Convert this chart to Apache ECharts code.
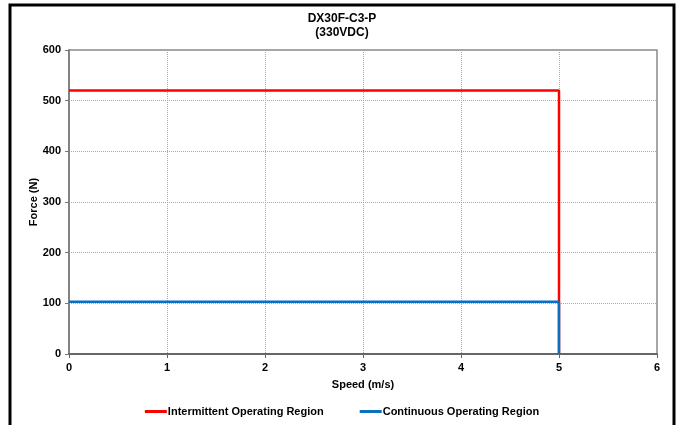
<!DOCTYPE html>
<html><head><meta charset="utf-8">
<script src="https://cdn.jsdelivr.net/npm/echarts@6/dist/echarts.min.js"></script>
<style>html,body{margin:0;padding:0;background:#fff}#c{width:684px;height:425px}</style>
</head><body><div id="c"></div>
<script>
const titleLines = ['DX30F-C3-P', '(330VDC)'];
const xName = 'Speed (m/s)';
const yName = 'Force (N)';
const seriesNames = ['Intermittent Operating Region', 'Continuous Operating Region'];
const intermittentSpeed = [0, 5, 5];
const intermittentForce = [520, 520, 0];
const continuousSpeed = [0, 5, 5];
const continuousForce = [103, 103, 0];

const chart = echarts.init(document.getElementById('c'));
const font = 'Liberation Sans, Arial, sans-serif';
chart.setOption({
  animation: false,
  backgroundColor: '#fff',
  title: {
    text: titleLines.join('\n'), left: 'center', top: 7,
    textStyle: {fontFamily: font, fontSize: 12, fontWeight: 'bold', color: '#000', lineHeight: 14}
  },
  graphic: [{
    type: 'rect', shape: {x: 10, y: 5, width: 664, height: 440},
    style: {fill: 'none', stroke: '#000', lineWidth: 3}, silent: true
  }],
  legend: {
    bottom: 3, left: 'center', itemWidth: 22, itemHeight: 3, itemGap: 36,
    icon: 'rect',
    textStyle: {fontFamily: font, fontSize: 11, fontWeight: 'bold', color: '#000', padding: [0,0,0,-4]},
    data: seriesNames
  },
  grid: {left: 69, top: 50, right: 27, bottom: 71, show: true, borderColor: '#888', borderWidth: 1.5},
  xAxis: {
    type: 'value', min: 0, max: 6, interval: 1,
    name: xName, nameLocation: 'middle', nameGap: 25, nameMoveOverlap: false,
    nameTextStyle: {fontFamily: font, fontSize: 11, fontWeight: 'bold', color: '#000'},
    axisLine: {lineStyle: {color: '#666', width: 2}},
    axisTick: {show: true, length: 4, lineStyle: {color: '#666'}},
    axisLabel: {fontFamily: font, fontSize: 11, fontWeight: 'bold', color: '#000', margin: 8},
    splitLine: {lineStyle: {color: '#aaa', type: [1, 1], width: 1}}
  },
  yAxis: {
    type: 'value', min: 0, max: 600, interval: 100,
    name: yName, nameLocation: 'middle', nameGap: 30, nameRotate: 90, nameMoveOverlap: false,
    nameTextStyle: {fontFamily: font, fontSize: 11, fontWeight: 'bold', color: '#000'},
    axisLine: {show: true, lineStyle: {color: '#777', width: 1.5}},
    axisTick: {show: true, length: 4, lineStyle: {color: '#777'}},
    axisLabel: {fontFamily: font, fontSize: 11, fontWeight: 'bold', color: '#000', margin: 8},
    splitLine: {lineStyle: {color: '#aaa', type: [1, 1], width: 1}}
  },
  series: [
    {name: seriesNames[0], type: 'line', symbol: 'none', color: '#ff0000',
     lineStyle: {width: 2.5, color: '#ff0000'},
     data: intermittentSpeed.map((s, i) => [s, intermittentForce[i]])},
    {name: seriesNames[1], type: 'line', symbol: 'none', color: '#0a70c0',
     lineStyle: {width: 2.5, color: '#0a70c0'},
     data: continuousSpeed.map((s, i) => [s, continuousForce[i]])}
  ]
});
</script></body></html>
